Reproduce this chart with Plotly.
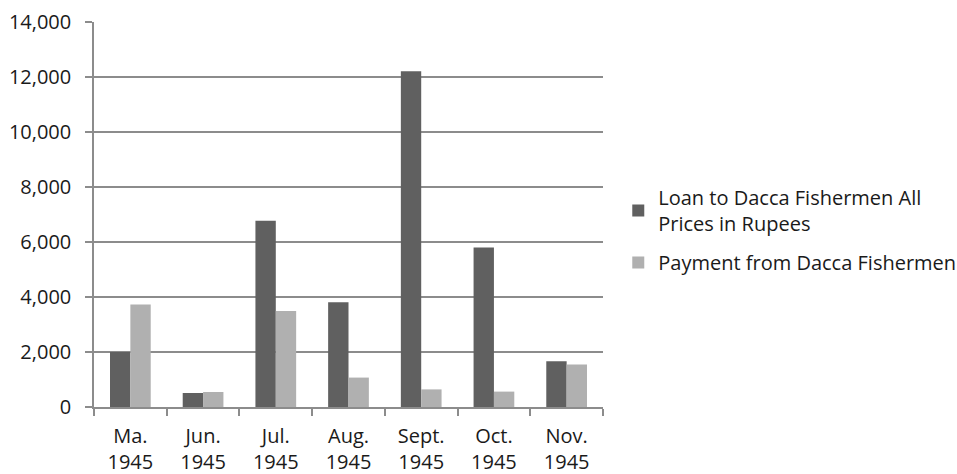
import plotly.graph_objects as go

categories = ["Ma.<br>1945", "Jun.<br>1945", "Jul.<br>1945", "Aug.<br>1945",
              "Sept.<br>1945", "Oct.<br>1945", "Nov.<br>1945"]
loan = [2000, 510, 6770, 3810, 12210, 5800, 1660]
payment = [3730, 545, 3490, 1070, 640, 560, 1550]
series_names = ["Loan to Dacca Fishermen All<br>Prices in Rupees",
                "Payment from Dacca Fishermen"]
y_ticks = [0, 2000, 4000, 6000, 8000, 10000, 12000, 14000]

FONT = "Open Sans"
TXT = "#1a1a1a"

fig = go.Figure()
fig.add_trace(go.Bar(x=categories, y=loan, name=series_names[0], legendgroup="a",
                     marker=dict(color="#606060", line=dict(width=0))))
fig.add_trace(go.Bar(x=categories, y=payment, name=series_names[1], legendgroup="b",
                     marker=dict(color="#b0b0b0", line=dict(width=0))))

fig.update_layout(
    width=957, height=474,
    margin=dict(l=94, r=354, t=22, b=67, autoexpand=False),
    paper_bgcolor="white", plot_bgcolor="white",
    barmode="group", bargap=0.44, bargroupgap=0,
    font=dict(family=FONT, size=20, color=TXT),
    showlegend=True,
    legend=dict(x=1.03, y=0.46, xanchor="left", yanchor="middle",
                font=dict(family=FONT, size=20, color=TXT),
                itemwidth=30, traceorder="grouped", tracegroupgap=10),
)
fig.update_xaxes(
    type="category", showgrid=False, showline=True, linecolor="#8c8c8c",
    linewidth=1.5, ticks="outside", tickson="boundaries", ticklen=7,
    tickcolor="#8c8c8c", tickwidth=1.5, automargin=False,
    ticklabelstandoff=10,
    tickfont=dict(family=FONT, size=20, color=TXT),
)
fig.update_yaxes(
    range=[0, 14000], tickvals=y_ticks, tickformat=",d",
    showgrid=True, gridcolor="#8c8c8c", gridwidth=1.5,
    showline=True, linecolor="#8c8c8c", linewidth=1.5,
    ticks="outside", ticklen=7, tickcolor="#8c8c8c", tickwidth=1.5,
    zeroline=False, automargin=False, ticklabelstandoff=10,
    tickfont=dict(family=FONT, size=20, color=TXT),
)

fig.write_html("out.html", config={"displayModeBar": False},
               post_script="document.body.style.margin='0';document.body.style.overflow='hidden';")
